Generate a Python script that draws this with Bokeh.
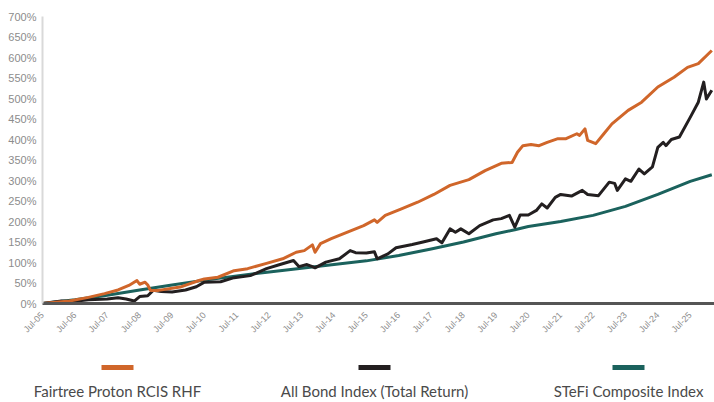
from bokeh.plotting import figure
from bokeh.models import Range1d, FixedTicker
from bokeh.layouts import column, row
from bokeh.embed import file_html
from bokeh.resources import INLINE
from bokeh.core.properties import value
from math import pi

# ---------------- data ----------------
series_names = ["Fairtree Proton RCIS RHF", "All Bond Index (Total Return)", "STeFi Composite Index"]

fund_dates = ["2005-07", "2006-05", "2006-12", "2007-06", "2007-11", "2008-03", "2008-06", "2008-07",
              "2008-09", "2008-10", "2008-11", "2009-02", "2009-10", "2010-05", "2010-07", "2010-12",
              "2011-06", "2011-11", "2012-06", "2012-12", "2013-05", "2013-08", "2013-11", "2013-12",
              "2014-02", "2014-06", "2014-12", "2015-06", "2015-10", "2015-11", "2016-02", "2016-08",
              "2017-02", "2017-08", "2018-02", "2018-09", "2019-03", "2019-09", "2020-01", "2020-03",
              "2020-05", "2020-08", "2020-11", "2021-02", "2021-06", "2021-09", "2022-01", "2022-02",
              "2022-04", "2022-05", "2022-08", "2022-11", "2023-02", "2023-08", "2024-01", "2024-07",
              "2025-01", "2025-06", "2025-10", "2026-03"]
fund_values = [0, 6, 15, 24, 33, 44, 56, 47,
               52, 45, 32, 32, 40, 56, 60, 64,
               80, 85, 98, 109, 125, 129, 143, 125,
               146, 158, 174, 190, 204, 198, 215, 231,
               247, 266, 288, 302, 324, 342, 344, 369,
               385, 388, 385, 393, 402, 402, 414, 410,
               426, 398, 390, 414, 438, 471, 491, 528,
               552, 576, 585, 617]

albi_dates = ["2005-07", "2006-02", "2006-06", "2006-12", "2007-07", "2007-11", "2008-02", "2008-05",
              "2008-07", "2008-10", "2008-12", "2009-03", "2009-07", "2009-12", "2010-04", "2010-07",
              "2011-01", "2011-06", "2011-12", "2012-06", "2012-11", "2013-04", "2013-06", "2013-09",
              "2013-11", "2013-12", "2014-04", "2014-09", "2015-01", "2015-03", "2015-07", "2015-10",
              "2015-11", "2016-03", "2016-06", "2016-12", "2017-04", "2017-09", "2017-11", "2018-02",
              "2018-04", "2018-06", "2018-09", "2019-01", "2019-06", "2019-09", "2019-12", "2020-02",
              "2020-04", "2020-07", "2020-10", "2020-12", "2021-02", "2021-05", "2021-07", "2021-11",
              "2022-03", "2022-05", "2022-09", "2023-01", "2023-03", "2023-04", "2023-07", "2023-09",
              "2023-12", "2024-02", "2024-05", "2024-07", "2024-09", "2024-10", "2024-12", "2025-03",
              "2025-07", "2025-10", "2025-12", "2026-01", "2026-03"]
albi_values = [0, 6, 5, 9, 11, 14, 11, 6,
               17, 19, 32, 29, 28, 33, 41, 52,
               53, 63, 68, 85, 95, 105, 90, 95,
               90, 87, 101, 109, 129, 124, 123, 126,
               109, 121, 136, 144, 150, 158, 148, 182,
               174, 182, 170, 190, 204, 207, 215, 186,
               216, 216, 227, 243, 233, 259, 266, 262,
               276, 266, 263, 296, 293, 276, 304, 298,
               328, 316, 333, 381, 393, 385, 400, 406,
               454, 491, 540, 499, 520]

stefi_dates = ["2005-07", "2006-07", "2007-07", "2008-07", "2009-07", "2010-07", "2011-07", "2012-07",
               "2013-07", "2014-07", "2015-07", "2016-07", "2017-07", "2018-07", "2019-07", "2020-02",
               "2020-07", "2021-07", "2022-07", "2023-07", "2024-07", "2025-07", "2026-03"]
stefi_values = [0, 9, 20, 33, 45, 57, 67, 77,
                86, 95, 104, 117, 133, 150, 170, 180,
                188, 200, 215, 237, 266, 298, 314]

x_tick_labels = ["Jul-05", "Jul-06", "Jul-07", "Jul-08", "Jul-09", "Jul-10", "Jul-11", "Jul-12",
                 "Jul-13", "Jul-14", "Jul-15", "Jul-16", "Jul-17", "Jul-18", "Jul-19", "Jul-20",
                 "Jul-21", "Jul-22", "Jul-23", "Jul-24", "Jul-25"]
y_tick_values = [0, 50, 100, 150, 200, 250, 300, 350, 400, 450, 500, 550, 600, 650, 700]

# ---------------- styling ----------------
colors = ["#d0662a", "#231f20", "#1b625d"]
FIG_W = 714
LEFT = 42


def month_index(s):
    y, m = s.split("-")
    return (int(y) - 2005) * 12 + int(m) - 7


def label_month(lbl):
    return (2000 + int(lbl.split("-")[1]) - 2005) * 12


x_ticks = [label_month(l) for l in x_tick_labels]

p = figure(width=FIG_W, height=348, x_range=Range1d(0, 249), y_range=Range1d(0, 700),
           toolbar_location=None, output_backend="svg",
           min_border_left=LEFT, min_border_right=0, min_border_top=16, min_border_bottom=45)
p.outline_line_color = None
p.grid.visible = False
p.background_fill_color = "white"
p.border_fill_color = "white"

p.xaxis.ticker = FixedTicker(ticks=x_ticks)
p.xaxis.major_label_overrides = {t: l for t, l in zip(x_ticks, x_tick_labels)}
p.xaxis.major_label_orientation = pi / 4
p.xaxis.axis_line_color = "#555555"
p.xaxis.axis_line_width = 3
p.xaxis.major_tick_line_color = None
p.xaxis.minor_tick_line_color = None
p.xaxis.major_label_text_font = "Liberation Sans"
p.xaxis.major_label_text_font_size = "9px"
p.xaxis.major_label_text_color = "#8c8c8c"
p.xaxis.major_label_standoff = 4

p.yaxis.ticker = FixedTicker(ticks=y_tick_values)
p.yaxis.major_label_overrides = {v: f"{v}%" for v in y_tick_values}
p.yaxis.axis_line_color = "#d9d9d9"
p.yaxis.axis_line_width = 2
p.yaxis.major_tick_line_color = None
p.yaxis.minor_tick_line_color = None
p.yaxis.major_tick_out = 0
p.yaxis.major_tick_in = 0
p.yaxis.major_label_text_font = "Liberation Sans"
p.yaxis.major_label_text_font_size = "11px"
p.yaxis.major_label_text_color = "#8c8c8c"
p.yaxis.major_label_standoff = 6

p.line([month_index(d) for d in stefi_dates], stefi_values, line_color=colors[2], line_width=3, line_join="round")
p.line([month_index(d) for d in albi_dates], albi_values, line_color=colors[1], line_width=3, line_join="round")
p.line([month_index(d) for d in fund_dates], fund_values, line_color=colors[0], line_width=3, line_join="round")

# ---------------- legend: a row of three small panels below ----------------
panel_widths = [245, 255, 214]      # panels span the page width
item_centers = [117, 129, 128]      # item centre inside each panel (px)
legend_items = []
for w, cx, name, col in zip(panel_widths, item_centers, series_names, colors):
    f = figure(width=w, height=52, x_range=Range1d(0, w), y_range=Range1d(0, 52),
               toolbar_location=None, output_backend="svg", x_axis_type=None, y_axis_type=None,
               min_border=0)
    f.outline_line_color = None
    f.grid.visible = False
    f.rect(x=[cx], y=[33], width=32, height=5, fill_color=col, line_color=None)
    f.text(x=[cx], y=[10], text=[name], text_align="center", text_baseline="middle",
           text_font=value("Lato"), text_font_size="15px", text_color="#4a4a4a")
    legend_items.append(f)

layout = column(p, row(*legend_items, spacing=0), spacing=0)
open("out.html", "w").write(file_html(layout, INLINE))
